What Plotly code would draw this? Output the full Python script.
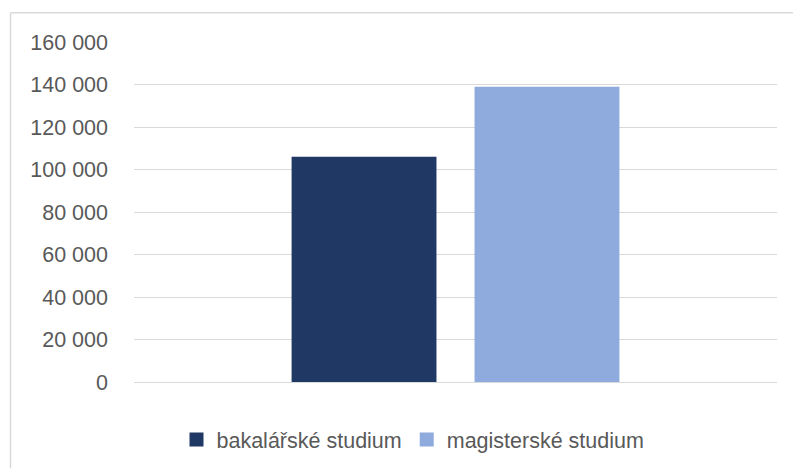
import plotly.graph_objects as go

categories = [""]
series_names = ["bakalářské studium", "magisterské studium"]
series_values = [[106000], [139000]]
series_colors = ["#203864", "#8FAADC"]
tick_vals = [0, 20000, 40000, 60000, 80000, 100000, 120000, 140000, 160000]
tick_text = ["0", "20 000", "40 000", "60 000", "80 000", "100 000", "120 000", "140 000", "160 000"]

W, H = 793, 472
L, R, T, B = 134, 16, 42, 87
pw, ph = W - L - R, H - T - B

fig = go.Figure()
for name, vals, col in zip(series_names, series_values, series_colors):
    fig.add_trace(go.Bar(x=categories, y=vals, name=name, showlegend=False,
                         marker=dict(color=col, line=dict(width=0))))
    # legend entry with a larger square swatch
    fig.add_trace(go.Scatter(x=[None], y=[None], mode="markers", name=name,
                             marker=dict(symbol="square", size=14, color=col, line=dict(width=0))))

FONT = "Liberation Sans"
FS = 21.5
fig.update_layout(
    width=W, height=H,
    margin=dict(l=L, r=R, t=T, b=B, pad=0),
    paper_bgcolor="white", plot_bgcolor="white",
    barmode="group", bargap=0.431, bargroupgap=0.208,
    font=dict(family=FONT, size=FS, color="#595959"),
    showlegend=True,
    legend=dict(orientation="h", x=(413 - L) / pw, xanchor="center",
                y=(T + ph - 443) / ph, yanchor="middle",
                font=dict(family=FONT, size=FS, color="#595959"),
                traceorder="normal", itemclick=False, itemwidth=30),
    xaxis=dict(showgrid=False, showticklabels=False, showline=False, zeroline=False, ticks=""),
    yaxis=dict(range=[0, 160000], tickvals=tick_vals, ticktext=tick_text,
               showgrid=True, gridcolor="#D9D9D9", gridwidth=1,
               zeroline=True, zerolinecolor="#D9D9D9", zerolinewidth=1,
               showline=False, ticks="", ticklabelstandoff=25,
               tickfont=dict(family=FONT, size=FS, color="#595959")),
)

def px_x(v):
    return (v - L) / pw

def px_y(v):
    return (T + ph - v) / ph

# chart area border (top and left edges visible in the crop)
border = dict(color="#D9D9D9", width=1.5)
fig.add_shape(type="line", xref="paper", yref="paper",
              x0=px_x(10.5), x1=px_x(W), y0=px_y(12.5), y1=px_y(12.5), line=border, layer="below")
fig.add_shape(type="line", xref="paper", yref="paper",
              x0=px_x(10.5), x1=px_x(10.5), y0=px_y(12.5), y1=px_y(H), line=border, layer="below")

fig.write_html("out.html", config={"displayModeBar": False},
               post_script="document.body.style.margin='0';document.body.style.overflow='hidden';")
